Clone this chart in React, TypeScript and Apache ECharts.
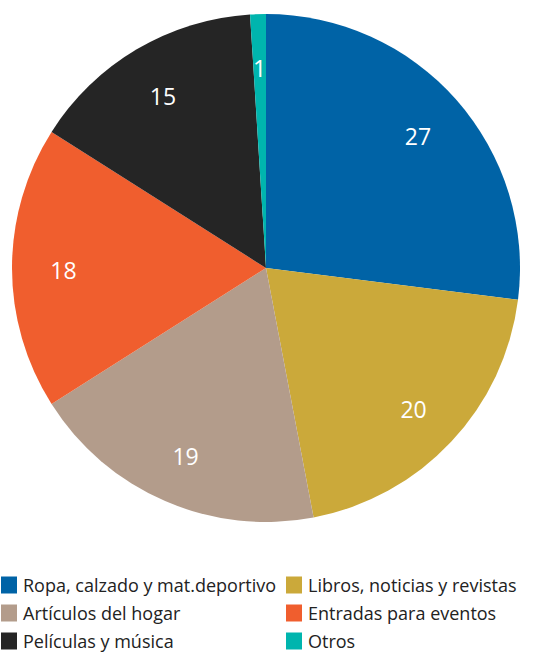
import React, { useEffect, useRef } from "react";
import * as echarts from "echarts";

const categories = [
  "Ropa, calzado y mat.deportivo",
  "Libros, noticias y revistas",
  "Artículos del hogar",
  "Entradas para eventos",
  "Películas y música",
  "Otros",
];
const values = [27, 20, 19, 18, 15, 1];
const colors = ["#0063A6", "#CBA93A", "#B39C8B", "#F05E2E", "#252525", "#00B5AE"];

export default function App() {
  const ref = useRef<HTMLDivElement>(null);
  useEffect(() => {
    document.body.style.margin = "0";
    const chart = echarts.init(ref.current!, undefined, { renderer: "svg" });
    const data = categories.map((name, i) => ({
      name,
      value: values[i],
      itemStyle: { color: colors[i] },
    }));
    const legendCommon = {
      itemWidth: 16,
      itemHeight: 17,
      icon: "rect",
      textStyle: {
        fontFamily: "Open Sans",
        fontSize: 18,
        lineHeight: 17,
        color: "#222",
        padding: [0, 0, 0, 1],
      },
      padding: 0,
      selectedMode: false,
    };
    const rowTops = [576, 604, 632];
    const legends = categories.map((name, i) => ({
      ...legendCommon,
      left: i % 2 === 0 ? 1 : 286,
      top: rowTops[Math.floor(i / 2)],
      data: [name],
    }));
    chart.setOption({
      animation: false,
      color: colors,
      legend: legends,
      series: [
        {
          type: "pie",
          center: [266, 268],
          radius: [0, 254],
          startAngle: 90,
          clockwise: true,
          silent: true,
          label: { show: false },
          labelLine: { show: false },
          data,
        },
        {
          type: "pie",
          center: [266, 270],
          radius: [145, 254],
          startAngle: 90,
          clockwise: true,
          silent: true,
          itemStyle: { color: "transparent", borderWidth: 0 },
          label: {
            show: true,
            position: "inside",
            formatter: "{c}",
            color: "#fff",
            fontFamily: "Open Sans",
            fontSize: 23,
          },
          labelLine: { show: false },
          data: categories.map((name, i) => ({
            name,
            value: values[i],
            itemStyle: { color: "transparent" },
          })),
        },
      ],
    });
    return () => chart.dispose();
  }, []);
  return <div ref={ref} style={{ width: 540, height: 653 }} />;
}
